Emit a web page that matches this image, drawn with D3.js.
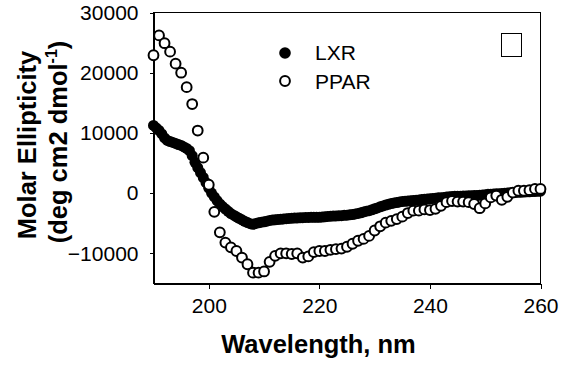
<!DOCTYPE html>
<html>
<head>
<meta charset='utf-8'>
<script src='https://d3js.org/d3.v7.min.js'></script>
<style>
  body { margin: 0; background: #fff; }
  text { font-family: 'Liberation Sans', Arial, sans-serif; fill: #000; }
</style>
</head>
<body>
<div id='grafico'></div>
<script>
// Datos (elipticidad molar vs longitud de onda)
const lxrNm = [
  190, 190.5, 191, 191.5, 192, 192.5, 193, 193.5, 194, 194.5,
  195, 195.5, 196, 196.5, 197, 197.5, 198, 198.5, 199, 199.5,
  200, 200.5, 201, 201.5, 202, 202.5, 203, 203.5, 204, 204.5,
  205, 205.5, 206, 206.5, 207, 207.5, 208, 208.5, 209, 209.5,
  210, 210.5, 211, 211.5, 212, 212.5, 213, 213.5, 214, 214.5,
  215, 215.5, 216, 216.5, 217, 217.5, 218, 218.5, 219, 219.5,
  220, 220.5, 221, 221.5, 222, 222.5, 223, 223.5, 224, 224.5,
  225, 225.5, 226, 226.5, 227, 227.5, 228, 228.5, 229, 229.5,
  230, 230.5, 231, 231.5, 232, 232.5, 233, 233.5, 234, 234.5,
  235, 235.5, 236, 236.5, 237, 237.5, 238, 238.5, 239, 239.5,
  240, 240.5, 241, 241.5, 242, 242.5, 243, 243.5, 244, 244.5,
  245, 245.5, 246, 246.5, 247, 247.5, 248, 248.5, 249, 249.5,
  250, 250.5, 251, 251.5, 252, 252.5, 253, 253.5, 254, 254.5,
  255, 255.5, 256, 256.5, 257, 257.5, 258, 258.5, 259, 259.5,
  260
];
const lxrVal = [
  11250, 10830, 10420, 9830, 9170, 8750, 8580, 8420, 8250, 8080,
  7920, 7670, 7420, 7050, 6230, 5120, 4250, 3420, 2600, 1750,
  820, 20, -630, -1230, -1780, -2230, -2630, -3020, -3380, -3650,
  -3920, -4170, -4420, -4670, -4880, -5070, -5170, -5020, -4920, -4820,
  -4750, -4650, -4530, -4470, -4420, -4370, -4330, -4280, -4230, -4200,
  -4150, -4130, -4120, -4080, -4070, -4030, -4020, -4000, -4000, -4000,
  -4000, -3970, -3920, -3870, -3830, -3800, -3780, -3750, -3730, -3680,
  -3650, -3600, -3550, -3450, -3370, -3250, -3120, -3000, -2900, -2770,
  -2600, -2450, -2270, -2120, -1980, -1850, -1730, -1630, -1550, -1450,
  -1380, -1350, -1300, -1250, -1200, -1170, -1120, -1070, -1020, -970,
  -930, -880, -830, -780, -750, -700, -650, -600, -570, -530,
  -520, -500, -480, -450, -430, -420, -380, -370, -330, -300,
  -250, -200, -170, -130, -100, -80, -70, -20, 30, 70,
  100, 120, 150, 170, 180, 220, 230, 270, 280, 320,
  330
];
const pparNm = [
  190, 191, 192, 193, 194, 195, 196, 197, 198, 199,
  200, 201, 202, 203, 204, 205, 206, 207, 208, 209,
  210, 211, 212, 213, 214, 215, 216, 217, 218, 219,
  220, 221, 222, 223, 224, 225, 226, 227, 228, 229,
  230, 231, 232, 233, 234, 235, 236, 237, 238, 239,
  240, 241, 242, 243, 244, 245, 246, 247, 248, 249,
  250, 251, 252, 253, 254, 255, 256, 257, 258, 259,
  260
];
const pparVal = [
  22900, 26200, 24900, 23500, 21500, 20000, 17600, 14800, 10400, 5900,
  1400, -3100, -6500, -8200, -9000, -9600, -10700, -11800, -13200, -13200,
  -13000, -11400, -10400, -10000, -10000, -10100, -10000, -10700, -10500, -9800,
  -9600, -9600, -9400, -9300, -9200, -8900, -8400, -7900, -7600, -7100,
  -6200, -5500, -4900, -4600, -4300, -3900, -3300, -2900, -2900, -2700,
  -2800, -2600, -2100, -1500, -1300, -1400, -1400, -1500, -1800, -2500,
  -1700, -700, -400, -1100, -600, 100, 400, 400, 500, 700,
  700
];
const seriesNames = ['LXR', 'PPAR'];
const xTicks = [200, 220, 240, 260];
const yTicks = [-10000, 0, 10000, 20000, 30000];

const W = 561, H = 366;
const plot = { left: 153.5, right: 540.5, top: 12.5, bottom: 283.5 };

const svg = d3.select('#grafico').append('svg')
  .attr('width', W)
  .attr('height', H);

// Escalas
const xScale = d3.scaleLinear().domain([190, 260]).range([plot.left, plot.right]);
const yScale = d3.scaleLinear().domain([-15000, 30000]).range([plot.bottom, plot.top]);

// Marco del gráfico
svg.append('rect')
  .attr('x', plot.left).attr('y', plot.top)
  .attr('width', plot.right - plot.left)
  .attr('height', plot.bottom - plot.top)
  .attr('fill', 'none').attr('stroke', '#000').attr('stroke-width', 1)
  .attr('shape-rendering', 'crispEdges');

// Ejes
const xAxis = d3.axisBottom(xScale).tickValues(xTicks).tickSize(5).tickSizeOuter(0).tickPadding(10);
const gx = svg.append('g')
  .attr('transform', 'translate(0,' + plot.bottom + ')')
  .call(xAxis);

const yAxis = d3.axisLeft(yScale).tickValues(yTicks).tickSize(4).tickSizeOuter(0).tickPadding(11)
  .tickFormat(d3.format('d'));
const gy = svg.append('g')
  .attr('transform', 'translate(' + plot.left + ',0)')
  .call(yAxis);

[gx, gy].forEach(g => {
  g.select('.domain').attr('stroke', '#000').attr('shape-rendering', 'crispEdges');
  g.selectAll('.tick line').attr('stroke', '#000').attr('shape-rendering', 'crispEdges');
  g.selectAll('.tick text')
    .attr('font-family', "'Liberation Sans', Arial, sans-serif")
    .attr('font-size', 21)
    .attr('fill', '#000');
});

// Puntos LXR (rellenos) y PPAR (huecos, encima)
const lxr = lxrNm.map((nm, i) => ({ nm: nm, v: lxrVal[i] }));
const ppar = pparNm.map((nm, i) => ({ nm: nm, v: pparVal[i] }));

svg.append('g').selectAll('circle')
  .data(lxr).enter().append('circle')
  .attr('cx', d => xScale(d.nm))
  .attr('cy', d => yScale(d.v))
  .attr('r', 5.5)
  .attr('fill', '#000');

svg.append('g').selectAll('circle')
  .data(ppar).enter().append('circle')
  .attr('cx', d => xScale(d.nm))
  .attr('cy', d => yScale(d.v))
  .attr('r', 4.9)
  .attr('fill', '#fff')
  .attr('stroke', '#000')
  .attr('stroke-width', 2);

// Leyenda
const legend = svg.append('g');
legend.append('circle').attr('cx', 285).attr('cy', 53).attr('r', 5.8).attr('fill', '#000');
legend.append('circle').attr('cx', 285).attr('cy', 81).attr('r', 4.9)
  .attr('fill', '#fff').attr('stroke', '#000').attr('stroke-width', 2);
legend.selectAll('text')
  .data(seriesNames).enter().append('text')
  .attr('x', 315)
  .attr('y', (d, i) => 60 + i * 28.5)
  .attr('font-size', 21)
  .text(d => d);

// Cuadro vacío
svg.append('rect')
  .attr('x', 501.5).attr('y', 33.5).attr('width', 20).attr('height', 23)
  .attr('fill', 'none').attr('stroke', '#000').attr('stroke-width', 1)
  .attr('shape-rendering', 'crispEdges');

// Títulos de ejes
svg.append('text')
  .attr('x', 318.5).attr('y', 353)
  .attr('text-anchor', 'middle')
  .attr('font-size', 25.5).attr('font-weight', 'bold')
  .text('Wavelength, nm');

svg.append('text')
  .attr('transform', 'translate(36,145) rotate(-90)')
  .attr('text-anchor', 'middle')
  .attr('font-size', 25.5).attr('font-weight', 'bold')
  .text('Molar Ellipticity');

const t2 = svg.append('text')
  .attr('transform', 'translate(67,142) rotate(-90)')
  .attr('text-anchor', 'middle')
  .attr('font-size', 25.5).attr('font-weight', 'bold');
t2.append('tspan').text('(deg cm2 dmol');
t2.append('tspan').attr('font-size', 16).attr('dy', -10).text('-1');
t2.append('tspan').attr('dy', 10).text(')');
</script>
</body>
</html>
